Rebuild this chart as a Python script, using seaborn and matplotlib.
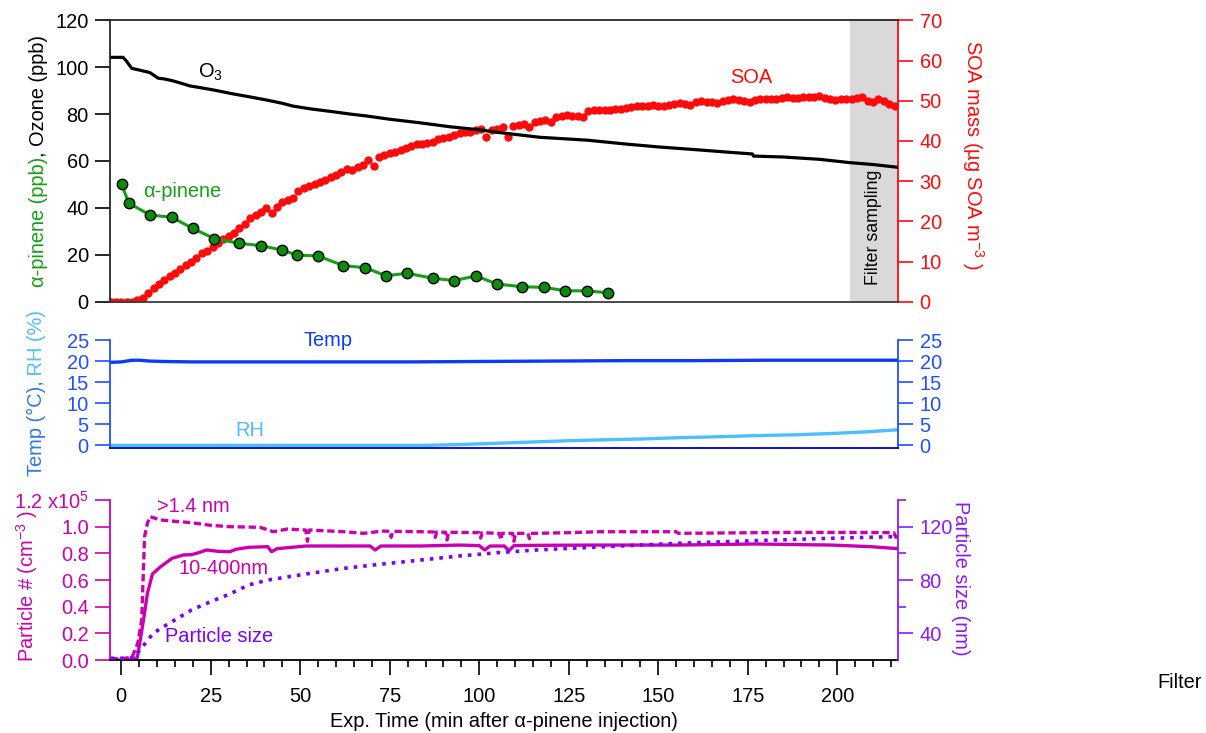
import numpy as np
import seaborn as sns
import matplotlib.pyplot as plt
from matplotlib.ticker import MultipleLocator, FixedLocator, FixedFormatter

# ===================== DATA =================================================
# top panel: ozone (ppb)
o3_time = [-3, 0.5, 1.5, 2.9, 5, 8, 10.3, 12, 14.1, 16, 19.2, 22, 25.7, 31.3, 35,
           40.6, 45, 48, 53, 59.2, 64, 68.5, 75, 83.4, 91.8, 100, 105.8, 117, 130,
           141.2, 150, 161.6, 170, 176.3, 176.6, 185, 195.2, 203.5, 210, 217]
o3_ppb = [104.2, 104.2, 102.5, 99.5, 98.8, 97.7, 95.3, 95.0, 94.3, 93.5, 92.0, 91.3,
          90.3, 88.6, 87.6, 86.0, 84.6, 83.4, 82.2, 81.0, 80.0, 79.2, 77.8, 76.3,
          74.6, 73.3, 72.1, 70.1, 68.9, 67.2, 66.0, 64.7, 63.7, 63.0, 62.1, 61.7,
          60.7, 59.3, 58.5, 57.3]

# top panel: alpha-pinene (ppb)
ap_time = [0.1, 2.1, 8.0, 14.1, 19.9, 26.0, 33.0, 39.0, 45.0, 49.0, 55.0, 62.0,
           68.1, 73.9, 79.9, 87.0, 93.0, 99.1, 105.0, 112.0, 118.0, 124.0, 130.1, 136.0]
ap_ppb = [50.0, 42.0, 37.0, 36.0, 31.3, 26.9, 24.9, 23.9, 22.0, 19.9, 19.5, 15.4,
          14.5, 11.1, 12.1, 10.0, 9.0, 11.0, 7.5, 6.4, 6.1, 4.7, 4.6, 3.8]

# top panel: SOA mass (ug m-3), one reading every 1.5 min from -3 to 216 min
soa_mass = [0, 0, 0, 0, 0, 0.3,
            0.9, 2.2, 3.4, 4.4, 5.3, 6.3, 7.2, 8.2, 9.1, 9.9,
            10.9, 12.0, 12.7, 13.6, 14.6, 15.6, 16.3, 17.1, 18.4, 19.4,
            20.7, 21.6, 22.3, 23.2, 22.0, 23.6, 24.7, 25.2, 25.9, 27.6,
            28.2, 28.7, 29.3, 29.8, 30.3, 30.9, 31.4, 32.3, 33.0, 32.7,
            33.5, 33.9, 35.3, 33.8, 36.0, 36.5, 36.9, 37.3, 37.7, 38.2,
            38.7, 39.2, 39.3, 39.6, 39.8, 40.5, 40.6, 41.0, 41.5, 41.9,
            42.1, 42.3, 42.6, 42.9, 40.9, 42.7, 43.0, 43.4, 41.0, 43.7,
            44.0, 44.2, 43.4, 44.8, 45.0, 45.1, 44.6, 45.9, 46.3, 46.4,
            46.2, 46.1, 46.0, 47.5, 47.6, 47.7, 47.6, 47.8, 48.0, 47.9,
            48.1, 48.4, 48.6, 48.7, 48.8, 48.9, 48.8, 48.6, 48.9, 49.2,
            49.4, 49.2, 48.9, 49.6, 50.0, 49.8, 49.7, 49.5, 49.9, 50.2,
            50.3, 50.1, 49.9, 49.8, 50.1, 50.3, 50.4, 50.3, 50.5, 50.7,
            50.8, 50.7, 50.6, 50.8, 50.9, 51.0, 51.1, 50.7, 50.3, 50.2,
            50.4, 50.3, 50.5, 50.7, 51.0, 49.9, 49.6, 50.3, 49.9, 49.3,
            48.6]
soa_time = np.linspace(-3, 216, len(soa_mass))
filter_start, filter_end = 203.5, 217

# middle panel: temperature (C) and RH (%)
temp_time = [-3, 0, 1.5, 3, 5, 8, 12, 20, 40, 60, 80, 100, 120, 140, 160, 180, 200, 217]
temp_c = [19.7, 19.8, 20.0, 20.2, 20.2, 20.0, 19.9, 19.8, 19.8, 19.8, 19.8, 19.9,
          20.0, 20.1, 20.1, 20.2, 20.2, 20.2]
rh_time = [-3, 85, 95, 105, 115, 125, 134, 145, 155, 165, 177, 188, 198, 208, 217]
rh_pct = [0, 0, 0.2, 0.5, 0.8, 1.1, 1.3, 1.5, 1.8, 2.0, 2.3, 2.5, 2.8, 3.2, 3.7]

# bottom panel: particle number (cm-3) >1.4 nm
n14_time = [-3, 0, 3, 4.6, 5.7, 6.5, 7.3, 8.0, 11, 15, 19.6, 24.9, 30.3, 38.8, 42.5,
            46.3, 51.5, 52.0, 52.5, 62.3, 67.7, 73, 75.0, 75.4, 75.8, 83.7, 87.3,
            87.7, 88.1, 90.6, 91.0, 91.4, 94.4, 100.0, 100.4, 100.8, 105.1, 105.6,
            106.0, 106.4, 109.3, 109.7, 110.1, 113.6, 114.0, 114.4, 115.8, 125,
            133.7, 145, 155.0, 155.6, 165, 176.9, 190, 198.5, 210, 215.8, 216.4, 217]
n14_cm3 = [1000, 1000, 2000, 12500, 30000, 92500, 102500, 107500, 105000, 104000,
           103000, 101000, 100000, 99500, 96200, 98200, 97500, 89000, 97500, 96200,
           95000, 96700, 96500, 92000, 96500, 96200, 96000, 92000, 96000, 95800,
           90000, 95800, 95700, 95500, 91500, 95500, 95000, 95000, 90000, 95000,
           95000, 89000, 95000, 95000, 91000, 95000, 95000, 95500, 96200, 96200,
           96200, 95000, 95200, 95500, 95700, 95700, 95600, 95500, 92000, 95000]

# bottom panel: particle number 10-400 nm (cm-3)
n400_time = [-3, 3, 4.5, 6.2, 7.3, 8.7, 11, 14.2, 17.4, 19.6, 21, 23.9, 27, 30.3, 32,
             35.6, 40.9, 42, 43.5, 46.3, 51.6, 62.3, 69.5, 70.9, 72.5, 83.7, 94.4,
             100, 101.5, 103, 105.1, 107, 108.3, 109.7, 115.8, 133.7, 155.3, 176.9,
             198.5, 209.3, 217]
n400_cm3 = [0, 0, 2000, 30000, 50000, 64500, 70000, 76300, 78800, 79000, 80000,
            82500, 81500, 81200, 83000, 84500, 85000, 81200, 83500, 84200, 85500,
            85500, 85500, 82500, 85500, 85500, 86200, 85800, 82500, 85500, 85500,
            85500, 82000, 85800, 86000, 86200, 86200, 87000, 86200, 85000, 83500]

# bottom panel: particle size (nm)
size_time = [-3, 0, 3, 3.5, 5, 6.7, 8.9, 11.5, 14.2, 19.6, 24.9, 30.3, 35.6, 41,
             51.6, 62.3, 73, 83.7, 94.4, 105.1, 115.8, 133.7, 155.3, 176.9, 198.5,
             215.8, 217]
size_nm = [21.3, 21.3, 21.5, 22.5, 27, 32.5, 40, 44.5, 48.8, 57.5, 63.7, 69.5, 76.3,
           80, 84.5, 88.8, 92, 95, 98, 100.5, 102.5, 104.8, 107.5, 109.5, 111.3,
           112.5, 112.5]

n_ticks = [0, 20000, 40000, 60000, 80000, 100000, 120000]
n_tick_labels = ["0.0", "0.2", "0.4", "0.6", "0.8", "1.0", "1.2 x10$^5$"]

# ===================== STYLE ========================
GREEN_LINE = "#14a014"
GREEN_FACE = "#0a8c0a"
RED = "#ff0a0a"
TEMP = "#0a3cf5"
TEMP_AX = "#1f50ff"
TEMP_LBL = "#2a7ae6"
RH = "#4cc0ff"
MAG = "#cc00b0"
PURP = "#7d00ff"
PURP_AX = "#8a1aff"
FS = 14.4

sns.set_style("ticks")
plt.rcParams['font.family'] = ['Liberation Sans', 'DejaVu Sans']
plt.rcParams['mathtext.fontset'] = 'custom'
plt.rcParams['mathtext.rm'] = 'Liberation Sans'
plt.rcParams['mathtext.it'] = 'Liberation Sans:italic'
plt.rcParams['mathtext.bf'] = 'Liberation Sans:bold'
plt.rcParams['font.size'] = FS
plt.rcParams['text.color'] = 'black'
plt.rcParams['axes.labelcolor'] = 'black'

W, H = 1206, 733
XLIM = (-3.07, 216.97)


def box(x0, y0, x1, y1):
    # pixel box (origin top-left) -> figure fraction rect
    return [x0 / W, 1 - y1 / H, (x1 - x0) / W, (y1 - y0) / H]


fig = plt.figure(figsize=(W / 100, H / 100), dpi=100)
ax1 = fig.add_axes(box(110.3, 20.3, 898, 301.7))
ax1b = ax1.twinx()
ax2 = fig.add_axes(box(110.3, 340, 898, 448.3))
ax3 = fig.add_axes(box(110.3, 500, 898, 660))
ax3b = ax3.twinx()

tick_kw = dict(direction='out', length=10.5, width=1.2, pad=5, labelsize=FS)

# ---------- top panel ----------
ax1.set_zorder(ax1b.get_zorder() + 1)
ax1.patch.set_visible(False)
ax1b.axvspan(filter_start, filter_end, color="#d9d9d9", lw=0, zorder=0)
sns.scatterplot(x=soa_time, y=soa_mass, ax=ax1b, color=RED, s=36, linewidth=0, zorder=2)
sns.lineplot(x=o3_time, y=o3_ppb, ax=ax1, color="black", lw=2.3, errorbar=None)
sns.lineplot(x=ap_time, y=ap_ppb, ax=ax1, color=GREEN_LINE, lw=2.2, errorbar=None,
             marker='o', markersize=7.5, markerfacecolor=GREEN_FACE,
             markeredgecolor='black', markeredgewidth=1)

ax1.set_xlim(*XLIM)
ax1.set_ylim(0, 120)
ax1b.set_ylim(0, 70)
ax1.yaxis.set_major_locator(MultipleLocator(20))
ax1b.yaxis.set_major_locator(MultipleLocator(10))
ax1.tick_params(axis='y', colors='black', **tick_kw)
ax1.tick_params(axis='x', bottom=False, labelbottom=False)
ax1b.tick_params(axis='y', colors=RED, **tick_kw)
ax1b.tick_params(axis='x', bottom=False, labelbottom=False)
ax1.spines['right'].set_visible(False)
ax1.spines['bottom'].set_color('#3c3c3c')
for s in ['left', 'top', 'bottom']:
    ax1.spines[s].set_linewidth(1.3)
for s in ['left', 'top', 'bottom']:
    ax1b.spines[s].set_visible(False)
ax1b.spines['right'].set_color(RED)
ax1b.spines['right'].set_linewidth(1.3)
for a in (ax1, ax1b):
    a.set_xlabel('')
    a.set_ylabel('')

ax1.text(21.5, 98, "O$_3$", ha='left', va='center', fontsize=FS)
ax1.text(6.1, 47.2, "α-pinene", color=GREEN_LINE, ha='left', va='center', fontsize=FS)
ax1.text(170, 95.4, "SOA", color=RED, ha='left', va='center', fontsize=FS)
ax1.text(210, 31.6, "Filter sampling", rotation=90, ha='center', va='center', fontsize=12.8)

# ---------- middle panel ----------
sns.lineplot(x=temp_time, y=temp_c, ax=ax2, color=TEMP, lw=2.4, errorbar=None)
sns.lineplot(x=rh_time, y=rh_pct, ax=ax2, color=RH, lw=2.4, errorbar=None)
ax2.set_xlim(*XLIM)
ax2.set_ylim(-0.7, 25)
ax2.yaxis.set_major_locator(MultipleLocator(5))
ax2.tick_params(axis='y', left=True, right=True, labelleft=True, labelright=True,
                colors=TEMP_AX, **tick_kw)
ax2.tick_params(axis='x', bottom=False, labelbottom=False)
ax2.spines['top'].set_visible(False)
for s in ['left', 'right']:
    ax2.spines[s].set_color(TEMP_AX)
    ax2.spines[s].set_linewidth(1.3)
ax2.spines['bottom'].set_color('#0000d0')
ax2.spines['bottom'].set_linewidth(1.3)
ax2.set_xlabel('')
ax2.set_ylabel('')
ax2.text(51, 24.8, "Temp", color=TEMP, ha='left', va='center', fontsize=FS)
ax2.text(31.8, 3.6, "RH", color=RH, ha='left', va='center', fontsize=FS)

# ---------- bottom panel ----------
sns.lineplot(x=n14_time, y=n14_cm3, ax=ax3, color=MAG, lw=2.4, errorbar=None,
             linestyle=(0, (2.2, 1.1)))
sns.lineplot(x=n400_time, y=n400_cm3, ax=ax3, color=MAG, lw=2.4, errorbar=None)
sns.lineplot(x=size_time, y=size_nm, ax=ax3b, color=PURP, lw=2.6, errorbar=None,
             linestyle=':')
ax3.set_xlim(*XLIM)
ax3.set_ylim(0, 120000)
ax3b.set_ylim(20, 140)
ax3.yaxis.set_major_locator(FixedLocator(n_ticks))
ax3.yaxis.set_major_formatter(FixedFormatter(n_tick_labels))
ax3.tick_params(axis='y', colors=MAG, **tick_kw)
ax3b.yaxis.set_major_locator(FixedLocator([40, 80, 120]))
ax3b.yaxis.set_minor_locator(FixedLocator([60, 100, 140]))
ax3b.tick_params(axis='y', which='major', colors=PURP_AX, **tick_kw)
ax3b.tick_params(axis='y', which='minor', direction='out', length=5.5, width=1.2,
                 colors=PURP_AX)
ax3.xaxis.set_major_locator(MultipleLocator(25))
ax3.xaxis.set_minor_locator(MultipleLocator(5))
ax3.tick_params(axis='x', which='major', direction='out', length=10.5, width=1.2,
                pad=9, labelsize=FS, colors='black')
ax3.tick_params(axis='x', which='minor', direction='out', length=5.3, width=1.2,
                colors='black')
ax3b.tick_params(axis='x', bottom=False, labelbottom=False)
ax3.spines['top'].set_visible(False)
ax3.spines['right'].set_visible(False)
ax3.spines['left'].set_color(MAG)
ax3.spines['left'].set_linewidth(1.3)
ax3.spines['bottom'].set_color('black')
ax3.spines['bottom'].set_linewidth(1.3)
for s in ['left', 'top', 'bottom']:
    ax3b.spines[s].set_visible(False)
ax3b.spines['right'].set_color(PURP_AX)
ax3b.spines['right'].set_linewidth(1.3)
ax3b.set_xlabel('')
ax3b.set_ylabel('')
ax3.set_ylabel('')
ax3.set_xlabel("Exp. Time (min after α-pinene injection)", fontsize=FS, labelpad=4,
               color='black')

ax3.text(10, 115000, ">1.4 nm", color=MAG, ha='left', va='center', fontsize=FS)
ax3.text(16.1, 68300, "10-400nm", color=MAG, ha='left', va='center', fontsize=FS)
ax3.text(12.1, 17500, "Particle size", color=PURP, ha='left', va='center', fontsize=FS)

# ---------- axis titles ----------
fig.canvas.draw()
renderer = fig.canvas.get_renderer()


def text_len(s):
    t = fig.text(0, 0, s, fontsize=FS)
    w = t.get_window_extent(renderer).width
    t.remove()
    return w


def stacked_label(parts, x_px, yc_px):
    # multi-coloured vertical label, reading bottom to top
    full = "".join(p for p, _ in parts)
    total = text_len(full)
    y_start = yc_px + total / 2
    for i, (s, c) in enumerate(parts):
        offset = total - text_len("".join(p for p, _ in parts[i:]))
        fig.text(x_px / W, 1 - (y_start - offset) / H, s, color=c, fontsize=FS,
                 rotation=90, rotation_mode='anchor', ha='left', va='baseline')


stacked_label([("α-pinene (ppb)", GREEN_LINE), (", Ozone (ppb)", "black")], 44, 161)
stacked_label([("Temp (°C),", TEMP_LBL), (" RH (%)", RH)], 42, 393)
fig.text(34 / W, 1 - 586 / H, "Particle # (cm$^{-3}$ )", color=MAG, fontsize=FS,
         rotation=90, rotation_mode='anchor', ha='center', va='baseline')
fig.text(966 / W, 1 - 155 / H, "SOA mass (µg SOA m$^{-3}$ )", color=RED, fontsize=FS,
         rotation=270, rotation_mode='anchor', ha='center', va='baseline')
fig.text(955 / W, 1 - 578 / H, "Particle size (nm)", color=PURP_AX, fontsize=FS,
         rotation=270, rotation_mode='anchor', ha='center', va='baseline')
fig.text(1157 / W, 1 - 683 / H, "Filter", fontsize=FS, ha='left', va='center',
         color='black')

fig.savefig("out.png", dpi=100)
